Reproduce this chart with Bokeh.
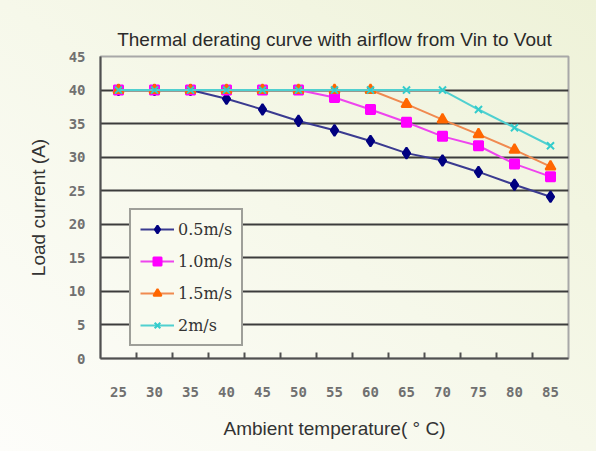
from bokeh.plotting import figure
from bokeh.models import FixedTicker, Legend, LegendItem, Title
from bokeh.embed import file_html
from bokeh.resources import INLINE

temps = [25, 30, 35, 40, 45, 50, 55, 60, 65, 70, 75, 80, 85]
s05 = [40, 40, 40, 38.7, 37.1, 35.4, 34.0, 32.4, 30.6, 29.5, 27.8, 25.9, 24.1]
s10 = [40, 40, 40, 40, 40, 40, 38.9, 37.1, 35.2, 33.1, 31.7, 29.0, 27.1]
s15 = [40, 40, 40, 40, 40, 40, 40, 40, 37.9, 35.6, 33.4, 31.1, 28.6]
s20 = [40, 40, 40, 40, 40, 40, 40, 40, 40, 40, 37.1, 34.4, 31.7]
series_names = ["0.5m/s", "1.0m/s", "1.5m/s", "2m/s"]
y_ticks = [0, 5, 10, 15, 20, 25, 30, 35, 40, 45]

title_text = "Thermal derating curve with airflow from Vin to Vout"
x_label = "Ambient temperature( \u00b0 C)"
y_label = "Load current (A)"

step = temps[1] - temps[0]
p = figure(width=596, height=451, output_backend="svg", toolbar_location=None,
           x_range=(temps[0] - step / 2, temps[-1] + step / 2), y_range=(0, 45),
           min_border_left=100, min_border_right=28, min_border_top=56, min_border_bottom=93)
p.styles = {"background": "linear-gradient(to top right, #fdfdfa 0%, #f6f8ea 50%, #eef2d8 100%)"}
p.border_fill_alpha = 0
p.background_fill_alpha = 0
p.outline_line_color = "#a8a8a8"
p.outline_line_width = 2

p.title = Title(text=title_text, align="center", text_font="Liberation Sans",
                text_font_size="19px", text_font_style="normal", text_color="#2a2a2a",
                standoff=14)

# x axis
p.xaxis.ticker = FixedTicker(ticks=temps,
                             minor_ticks=[t + step / 2 for t in temps[:-1]])
p.xaxis.major_tick_in = 0
p.xaxis.major_tick_out = 0
p.xaxis.minor_tick_in = 6
p.xaxis.minor_tick_out = 0
p.xaxis.minor_tick_line_color = "#505050"
p.xaxis.minor_tick_line_width = 2
p.xaxis.axis_line_color = "#505050"
p.xaxis.axis_line_width = 2
p.xaxis.major_label_standoff = 28
p.xaxis.axis_label = x_label
p.xaxis.axis_label_standoff = 18

# y axis
p.yaxis.ticker = FixedTicker(ticks=y_ticks)
p.yaxis.major_tick_in = 0
p.yaxis.major_tick_out = 0
p.yaxis.minor_tick_line_color = None
p.yaxis.axis_line_color = "#505050"
p.yaxis.axis_line_width = 2
p.yaxis.major_label_standoff = 15
p.yaxis.axis_label = y_label
p.yaxis.axis_label_standoff = 17

for ax in (p.xaxis, p.yaxis):
    ax.major_label_text_font = "DejaVu Sans Mono"
    ax.major_label_text_font_size = "14px"
    ax.major_label_text_font_style = "bold"
    ax.major_label_text_color = "#707070"
    ax.axis_label_text_font = "Liberation Sans"
    ax.axis_label_text_font_size = "19px"
    ax.axis_label_text_font_style = "normal"
    ax.axis_label_text_color = "#333333"

p.xgrid.grid_line_color = None
p.ygrid.grid_line_color = "#3c3c3c"
p.ygrid.grid_line_width = 2

colors_line = ["#3a3a90", "#ee44ee", "#f08a50", "#50d0d0"]
colors_mark = ["#000080", "#ff00ff", "#ff6600", "#33cccc"]
markers = ["diamond", "square", "triangle", "x"]
sizes = [11, 9, 10, 10]
data = [s05, s10, s15, s20]

items = []
for name, ys, cl, cm, mk, sz in zip(series_names, data, colors_line, colors_mark, markers, sizes):
    r1 = p.line(temps, ys, line_color=cl, line_width=2)
    r2 = p.scatter(temps, ys, marker=mk, size=sz, fill_color=cm, line_color=cm, line_width=2)
    items.append(LegendItem(label=name, renderers=[r1, r2]))

legend = Legend(items=items, location=(29, 12), orientation="vertical",
                label_text_font="DejaVu Serif", label_text_font_size="16px",
                label_text_color="#333333", glyph_width=34, glyph_height=20,
                label_height=20, spacing=12, padding=9, margin=0, label_standoff=4,
                border_line_color="#444444", border_line_width=2,
                background_fill_color="#f9faef", background_fill_alpha=1)
p.add_layout(legend, "center")

open("out.html", "w").write(file_html(p, INLINE))
